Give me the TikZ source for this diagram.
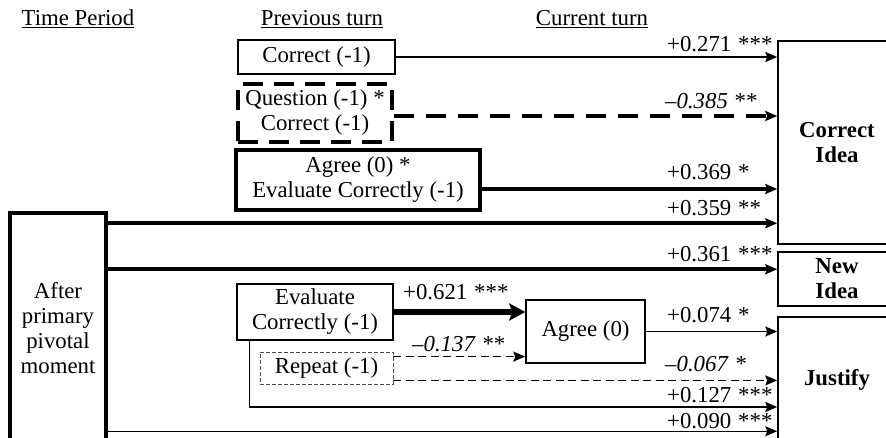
\documentclass[tikz,border=0pt]{standalone}
\usepackage{fontspec}
\setmainfont{Liberation Serif}
\usetikzlibrary{arrows.meta, positioning, calc}

\begin{document}
\begin{tikzpicture}[
        x=1pt, y=-1pt,
        every node/.style={font=\fontsize{22.8}{25}\selectfont, inner sep=0pt, align=center},
        prevbox/.style={rectangle, draw=black, line width=1.5pt},
        boldbox/.style={rectangle, draw=black, line width=3.5pt},
        dashbox/.style={rectangle, draw=black, line width=3.5pt, dash pattern=on 20pt off 11pt},
        faintbox/.style={rectangle, draw=black!70, line width=0.8pt, dash pattern=on 4pt off 2pt},
        outcome/.style={rectangle, draw=black, line width=1.5pt, minimum width=118pt, font=\fontsize{22.8}{25}\selectfont\bfseries},
        head/.style={anchor=base},
        coef/.style={anchor=base west},
        arrow/.style={line width=1.5pt, -{Stealth[length=12pt, width=10pt, inset=2pt]}},
        dasharrow/.style={arrow, dash pattern=on 8pt off 4.5pt},
        thickarrow/.style={arrow, line width=3.5pt},
        bigdasharrow/.style={thickarrow, dash pattern=on 20pt off 12pt},
        heavyarrow/.style={line width=6pt, -{Stealth[length=16pt, width=17pt, inset=3pt]}}
    ]
        \useasboundingbox (0,0) rectangle (886,438);
        \clip (0,0) rectangle (886,438);

        % Headings
        \node[head] (timehd) at (78,26) {\underline{Time Period}};
        \node[head] (prevhd) at (322,26) {\underline{Previous turn}};
        \node[head] (curhd) at (592,26) {\underline{Current turn}};

        % Nodes
        \node[prevbox, minimum width=157pt, minimum height=34pt] (corr) at (316.5,57) {Correct (-1)};
        \node[dashbox, minimum width=154pt, minimum height=58pt] (quest) at (315,113) {Question (-1) *\\Correct (-1)};
        \node[boldbox, minimum width=244pt, minimum height=60pt] (agreeev) at (358,180) {Agree (0) *\\Evaluate Correctly (-1)};
        \node[boldbox, minimum width=96pt, minimum height=230pt] (after) at (58,328) {After\\primary\\pivotal\\moment};
        \node[prevbox, minimum width=156pt, minimum height=56pt] (evalc) at (315,312) {Evaluate\\Correctly (-1)};
        \node[faintbox, minimum width=133pt, minimum height=32pt] (rep) at (326.5,368) {Repeat (-1)};
        \node[prevbox, minimum width=119pt, minimum height=63pt] (agree) at (585.5,331.5) {Agree (0)};
        \node[outcome, minimum height=203pt] (cidea) at (837,142.5) {Correct\\Idea};
        \node[outcome, minimum height=54pt] (nidea) at (837,279) {New\\Idea};
        \node[outcome, minimum height=126pt] (just) at (837,380) {Justify};

        % Arrow ends
        \coordinate (qs) at ($(quest.east)+(0,3)$);
        \coordinate (ag) at ($(agreeev.east)+(0,9)$);
        \coordinate (af1) at ($(after.north east)+(0,12)$);
        \coordinate (af2) at ($(after.north east)+(0,58)$);
        \coordinate (af3) at ($(after.north east)+(0,220)$);
        \coordinate (rp1) at ($(rep.north east)+(0,5)$);
        \coordinate (rp2) at ($(rep.south east)+(0,-4)$);
        \coordinate (ev1) at ($(evalc.south west)+(13,0)$);
        \coordinate (ev2) at ($(just.west)+(0,27)$);

        % Arrows
        \draw[arrow] (corr.east) -- (corr.east -| cidea.west);
        \draw[bigdasharrow] (qs) -- (qs -| cidea.west);
        \draw[thickarrow] (ag) -- (ag -| cidea.west);
        \draw[thickarrow] (af1) -- (af1 -| cidea.west);
        \draw[thickarrow] (af2) -- (af2 -| nidea.west);
        \draw[heavyarrow] (evalc.east) -- (evalc.east -| agree.west);
        \draw[dasharrow] (rp1) -- (rp1 -| agree.west);
        \draw[arrow] (agree.east) -- (agree.east -| just.west);
        \draw[dasharrow] (rp2) -- (rp2 -| just.west);
        \draw[arrow] (ev1) |- (ev2);
        \draw[arrow] (af3) -- (af3 -| just.west);

        % Coefficients
        \node[coef] (c271) at (667,52) {+0.271\hskip.3em***};
        \node[coef] (c385) at (665,109) {\textit{--0.385}\hskip.3em**};
        \node[coef] (c369) at (667,180) {+0.369\hskip.3em*};
        \node[coef] (c359) at (667,216) {+0.359\hskip.3em**};
        \node[coef] (c361) at (667,262) {+0.361\hskip.3em***};
        \node[coef] (c621) at (403,300) {+0.621\hskip.3em***};
        \node[coef] (c137) at (412,351) {\textit{--0.137}\hskip.3em**};
        \node[coef] (c074) at (667,323) {+0.074\hskip.3em*};
        \node[coef] (c067) at (665,371) {\textit{--0.067}\hskip.3em*};
        \node[coef] (c127) at (667,402) {+0.127\hskip.3em***};
        \node[coef] (c090) at (667,428) {+0.090\hskip.3em***};
    \end{tikzpicture}
\end{document}
